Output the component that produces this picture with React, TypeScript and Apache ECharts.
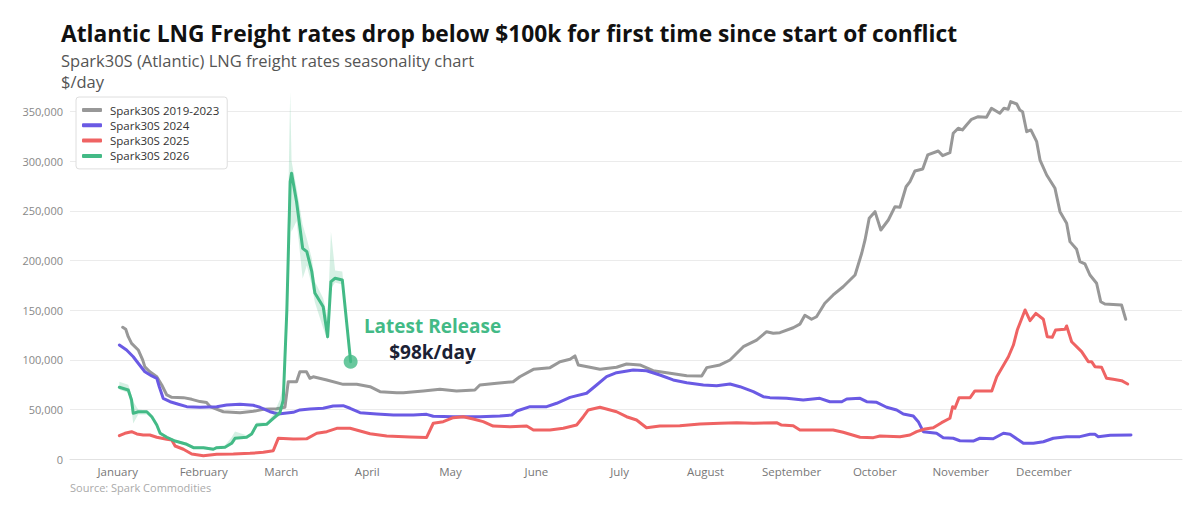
import React, { useEffect, useRef } from "react";
import * as echarts from "echarts";

// x values are day-of-year (0 = 1 January), y values in thousand $/day (scaled at build)
const monthDays = [0, 31, 59, 90, 120, 151, 181, 212, 243, 273, 304, 334];
const monthNames = ["January", "February", "March", "April", "May", "June", "July", "August", "September", "October", "November", "December"];

const seriesNames = ["Spark30S 2019-2023", "Spark30S 2024", "Spark30S 2025", "Spark30S 2026"];

const grey: number[][] = [
  [1.8, 132.8], [2.9, 130.8], [3.8, 123.4], [5.0, 116.7], [7.4, 110], [9.0, 100], [9.8, 93], [11.6, 88], [14.1, 83], [15.9, 74.7],
  [17.7, 64.7], [19.5, 62.3], [23.7, 62], [26.7, 60.3], [29.7, 58], [32.1, 57], [33.3, 53], [38.1, 47.8], [44.1, 46.8], [48.9, 48.2],
  [52.5, 50.2], [57.3, 50.9], [60.3, 52.3], [61.5, 78], [64.5, 78], [65.7, 88], [68.1, 88], [69.3, 81.5], [70.5, 83], [75.4, 79.8],
  [81.3, 75.4], [86.2, 75.4], [91, 73], [94.6, 68], [100.6, 67], [103, 67], [110.2, 68.7], [116.2, 70.4], [122.2, 68.7], [128.8, 69.7],
  [130.6, 74.7], [136.7, 76.4], [142.6, 78], [145, 83], [149.9, 90.5], [155.9, 92.2], [159.5, 98.2], [163.1, 100.6], [164.9, 104], [166.1, 94.9],
  [170.3, 92.6], [173.9, 90.5], [179.9, 92.6], [183.5, 95.9], [188.3, 94.9], [193.1, 89.1], [199.2, 86.5], [205.2, 84.1], [210.6, 83.8], [212.4, 92.2],
  [217.2, 94.9], [220.8, 99.9], [225.6, 113.3], [230.4, 120], [234, 128.4], [236.4, 126.8], [238.8, 127.4], [243.6, 132.4], [246, 136], [247.8, 145],
  [250.2, 140.9], [252, 143.5], [255, 157], [258, 165.4], [261.6, 173.7], [265.9, 185.5], [268.3, 207.4], [269.5, 220.8], [271, 242.6], [273.1, 249.3],
  [275.2, 230.8], [277.9, 240.9], [280.3, 254.3], [282.1, 253.7], [284.3, 274.4], [285.7, 279.5], [287.5, 290.3], [290.3, 292.3], [292.1, 306.4], [295.9, 310.4],
  [297.5, 305.7], [300.1, 308.7], [301.3, 328.2], [303.1, 333.3], [304.6, 331.6], [306.1, 336.6], [307.9, 342.3], [310.3, 344.9], [313.3, 344.3], [315.1, 353.4],
  [318.1, 348.4], [319.6, 353.4], [321.1, 352.4], [322, 360.1], [324.2, 357.7], [325.3, 351.7], [326.3, 350], [327.8, 329.8], [329.3, 331.6], [331.4, 319.8],
  [332.6, 301.3], [335, 286.2], [338, 272.8], [339.8, 249.3], [342.2, 237.6], [343.4, 219.1], [345.8, 211.4], [347, 198.9], [348.8, 196.6], [350.6, 185.5],
  [353, 177.2], [354.5, 158.6], [356, 156.3], [362, 155.3], [363.5, 140.9],
];

const blue: number[][] = [
  [0.6, 115], [3.2, 110], [5.6, 103.2], [7.4, 96.6], [9.8, 88.1], [12.3, 83.8], [14.1, 81.5], [15, 73], [16.4, 61.3], [18.9, 57.9],
  [21.9, 55.3], [24.9, 52.9], [29.7, 52.3], [35.7, 52.9], [39.3, 54.6], [44.1, 55.3], [48.9, 54.3], [51.3, 52.3], [54.9, 47.8], [57.9, 45.5],
  [63.3, 47.2], [65.7, 49.6], [69.3, 50.5], [74.1, 51.3], [77.7, 53.6], [81.3, 53.9], [83.8, 51.3], [87.4, 46.8], [93.4, 45.5], [99.4, 44.5],
  [106.6, 44.5], [111.4, 45.2], [113.8, 43.2], [121, 42.8], [130.6, 42.8], [137.8, 43.5], [142.1, 44.5], [143.9, 48.5], [148.7, 52.9], [154.7, 52.9],
  [158.3, 56.3], [163.1, 62.3], [169.1, 66.4], [172.7, 74.7], [176.3, 83.1], [179.9, 87.1], [185.9, 89.8], [190.7, 89.1], [195.5, 84.8], [200.3, 79.8],
  [205.2, 77], [211.2, 74.7], [216, 74], [220.8, 75.7], [224.4, 73], [229.2, 68], [232.8, 63], [235.2, 62], [241.2, 61.3], [247.2, 59.6],
  [253.2, 61.3], [256.8, 57.9], [261.1, 57.9], [262.9, 60.6], [267.7, 61.3], [270.1, 57.9], [273.7, 57.3], [277.3, 52.3], [280.9, 49.6], [283.3, 45.5],
  [286.9, 43.5], [288.7, 37.8], [290.5, 27.7], [295.3, 26.1], [297.7, 21.7], [301.3, 21.1], [303.7, 18.6], [308.5, 18.3], [310.9, 21.1], [315.7, 20.6],
  [319.4, 26.1], [321.8, 25.1], [326.6, 16], [330.2, 16], [333.8, 17.6], [337.4, 21.1], [342.2, 22.7], [347, 22.7], [350.6, 25.1], [352.4, 25.1],
  [353.6, 22.7], [357.9, 24.1], [365.4, 24.4],
];

const red: number[][] = [
  [0.6, 23.7], [2.6, 26.1], [5, 27.7], [6.9, 25.4], [9.2, 24.4], [11.6, 24.4], [14.1, 22.1], [17.7, 20], [19.5, 19.3], [20.7, 13.3],
  [23.7, 10], [26.7, 5.2], [30.9, 3.5], [35.7, 4.9], [41.7, 5.2], [47.7, 5.9], [52.5, 6.9], [56.1, 8.6], [57.9, 21], [63.3, 20.3],
  [68.1, 20.5], [71.8, 26.1], [75.4, 27.7], [79, 31.1], [83.8, 31.1], [87.4, 28.4], [91, 25.6], [97, 23.4], [105.4, 22.4], [111.4, 21.9],
  [113.8, 36.2], [117.4, 37.8], [121, 41.8], [124.6, 42.8], [128.2, 40.5], [131.8, 37.8], [135.4, 33.4], [141.5, 32.7], [147.5, 33.4], [149.9, 29.4],
  [155.9, 29.4], [160.7, 31.1], [165.5, 34.4], [167.9, 42.8], [169.7, 49.6], [173.9, 52.3], [179.9, 47.8], [183.5, 42.8], [187.1, 39.5], [190.7, 31.7],
  [195.5, 33.4], [202.7, 33.7], [210, 35.5], [217.2, 36.2], [223.2, 36.8], [229.2, 36.2], [237.6, 36.8], [239.4, 34.4], [243.6, 33.7], [246, 29.4],
  [250.8, 29.4], [258, 29.4], [261.6, 27.1], [267.7, 22.1], [272.5, 21.7], [274.9, 23.4], [282.1, 22.7], [285.7, 24.4], [288.1, 27.7], [291.1, 30.4],
  [294.1, 31.7], [297.1, 36.8], [300.1, 41.2], [301.1, 52.9], [301.9, 51.3], [303.4, 62], [307.4, 62], [309.1, 68.7], [315.2, 68.7], [317, 83.1],
  [321.2, 103.2], [323, 115], [324.4, 130.1], [327.2, 150.3], [329, 139.5], [331.1, 146.9], [333.8, 140.9], [335.2, 123.4], [337, 122.8], [338.2, 130.1],
  [341.6, 130.8], [342.2, 134.2], [344, 118.3], [347.6, 108.3], [350, 98.2], [351.2, 98.2], [352.4, 93.2], [354.8, 92.6], [356.6, 81.5], [359, 80.5],
  [362, 79.1], [364.2, 75.7],
];

const greenDays = [0.6, 3.8, 5, 5.6, 7.4, 10.5, 12.3, 14.1, 15.3, 17.7, 20.7, 24.9, 27.3, 30.9, 34.5, 35.7, 38.7, 41.1, 42.3, 46.5, 48.3, 50.1, 53.7, 56.1, 58.5, 59.7, 61, 62.2, 62.7, 64.5, 66.7, 68.2, 70, 71.1, 74.1, 75.7, 76.9, 78.4, 81, 84];
const greenVals = [72.4, 69.7, 59.6, 46.2, 47.8, 47.8, 42.8, 34.4, 26.1, 22.1, 18.3, 15, 11.6, 11.6, 10, 11.6, 12, 16, 21, 22.1, 25.4, 34.4, 35.1, 41.2, 46.8, 59.6, 150, 279.5, 288, 259.3, 212.4, 209, 188.8, 167.4, 153.6, 123.4, 178.8, 182.2, 180.5, 98.2];
const greenLow = [70, 67, 50, 36, 45, 45, 41, 33, 25, 21, 17, 13.5, 10.5, 10.5, 9, 10.5, 11, 15, 20, 21, 24, 33, 34, 39, 44, 55, 120, 240, 229, 240, 182, 195, 175, 158, 132, 120, 172, 178, 176, 96];
const greenHigh = [78, 75, 65, 58, 50, 49, 44, 36, 28, 23.5, 19.5, 16.5, 13, 13, 11.5, 13, 14, 22, 28, 24, 27, 37, 37, 45, 60, 75, 180, 370, 300, 273, 236, 222, 202, 179, 162, 142, 229, 190, 189, 100];

const colors = ["#989898", "#6a5ae4", "#ef6363", "#43ba86"];
const FONT = "'Open Sans', sans-serif";

const k = (pts: number[][]) => pts.map(([d, v]) => [d, v * 1000]);

export default function App() {
  const ref = useRef<HTMLDivElement>(null);
  useEffect(() => {
    if (!ref.current) return;
    const chart = echarts.init(ref.current, undefined, { renderer: "svg" });
    const green = greenDays.map((d, i) => [d, greenVals[i] * 1000]);
    const last = green[green.length - 1];
    const lineBase = (name: string, data: number[][], color: string, z: number) => ({
      name,
      type: "line",
      data,
      showSymbol: false,
      symbol: "none",
      lineStyle: { color, width: 3, cap: "round", join: "round" },
      itemStyle: { color },
      z,
      silent: true,
    });
    chart.setOption({
      animation: false,
      textStyle: { fontFamily: FONT },
      title: [
        { text: "Atlantic LNG Freight rates drop below $100k for first time since start of conflict", left: 61, top: 20, padding: 0,
          textStyle: { fontFamily: FONT, fontSize: 22.75, fontWeight: 700, color: "#111", lineHeight: 26 } },
        { text: "Spark30S (Atlantic) LNG freight rates seasonality chart", left: 61, top: 49, padding: 0,
          textStyle: { fontFamily: FONT, fontSize: 16.5, fontWeight: 400, color: "#555", lineHeight: 22 } },
        { text: "$/day", left: 61, top: 70, padding: 0,
          textStyle: { fontFamily: FONT, fontSize: 16.5, fontWeight: 400, color: "#555", lineHeight: 22 } },
        { text: "Source: Spark Commodities", left: 70, top: 480, padding: 0,
          textStyle: { fontFamily: FONT, fontSize: 11, fontWeight: 400, color: "#aaa", lineHeight: 14 } },
      ],
      legend: {
        data: seriesNames,
        orient: "vertical",
        left: 76,
        top: 97,
        padding: [6, 8, 6, 6],
        itemGap: 1.3,
        itemWidth: 20,
        itemHeight: 4,
        icon: "roundRect",
        backgroundColor: "#fff",
        borderColor: "#dedede",
        borderWidth: 1,
        borderRadius: 3,
        textStyle: { fontFamily: FONT, fontSize: 11.5, color: "#333", lineHeight: 14, padding: [0, 0, 0, 3] },
        selectedMode: false,
      },
      grid: { left: 70, right: 18, top: 91.8, bottom: 55.8, containLabel: false },
      xAxis: {
        type: "value",
        min: -17.2,
        max: 383.8,
        axisLine: { show: true, lineStyle: { color: "#e2e2e2", width: 1 } },
        axisTick: { show: false },
        splitLine: { show: false },
        axisLabel: {
          customValues: monthDays,
          formatter: (v: number) => monthNames[monthDays.indexOf(Math.round(v))] ?? "",
          color: "#777",
          fontFamily: FONT,
          fontSize: 11.5,
          margin: 6,
        },
      },
      yAxis: {
        type: "value",
        min: 0,
        max: 370000,
        interval: 50000,
        axisLine: { show: false },
        axisTick: { show: false },
        splitLine: { show: true, showMaxLine: false, lineStyle: { color: "#ebebeb", width: 1 } },
        axisLabel: {
          showMaxLabel: false,
          formatter: (v: number) => (v > 350000 ? "" : v.toLocaleString("en-US")),
          color: "#888",
          fontFamily: FONT,
          fontSize: 11,
          margin: 7,
        },
      },
      series: [
        lineBase(seriesNames[0], k(grey), colors[0], 2),
        lineBase(seriesNames[1], k(blue), colors[1], 3),
        lineBase(seriesNames[2], k(red), colors[2], 4),
        {
          name: "band",
          type: "custom",
          data: [[greenDays[0], greenLow[0] * 1000]],
          silent: true,
          clip: true,
          z: 5,
          renderItem: (_params: any, api: any) => {
            const pts: number[][] = [];
            for (let i = 0; i < greenDays.length; i++) pts.push(api.coord([greenDays[i], greenHigh[i] * 1000]));
            for (let i = greenDays.length - 1; i >= 0; i--) pts.push(api.coord([greenDays[i], greenLow[i] * 1000]));
            return { type: "polygon", shape: { points: pts }, style: { fill: "rgba(67,186,134,0.22)", stroke: "none" } };
          },
        },
        lineBase(seriesNames[3], green, colors[3], 6),
        {
          name: "latest",
          type: "scatter",
          data: [last],
          symbol: "circle",
          symbolSize: 14,
          itemStyle: { color: colors[3] },
          silent: true,
          z: 7,
        },
      ],
      graphic: [
        { type: "text", x: 432.5, y: 325.5, silent: true,
          style: { text: "Latest Release", textAlign: "center", textVerticalAlign: "middle", fill: "#43ba86",
            font: `700 19px ${FONT}` } },
        { type: "text", x: 432.5, y: 351.5, silent: true,
          style: { text: "$98k/day", textAlign: "center", textVerticalAlign: "middle", fill: "#1b2134",
            font: `700 19px ${FONT}` } },
      ],
    });
    return () => chart.dispose();
  }, []);
  return <div ref={ref} style={{ position: "absolute", left: 0, top: 0, width: 1200, height: 515, background: "#fff" }} />;
}
